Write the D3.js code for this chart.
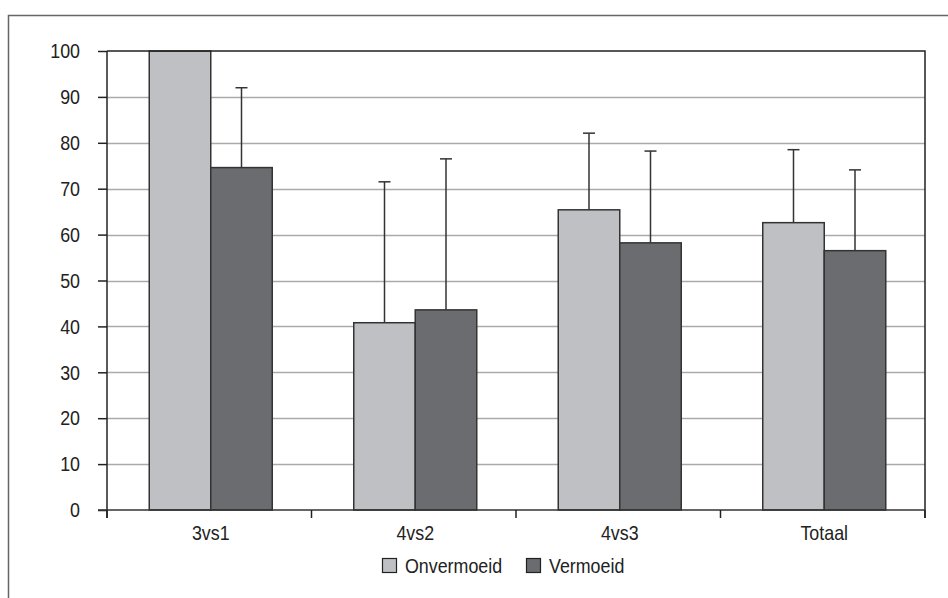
<!DOCTYPE html>
<html>
<head>
<meta charset="utf-8">
<script src="https://cdn.jsdelivr.net/npm/d3@7"></script>
<style>
  html, body { margin: 0; padding: 0; background: #fff; }
  svg { display: block; }
  text { font-family: "Liberation Sans Narrow", "Arial Narrow", "Liberation Sans", sans-serif; fill: #222; }
</style>
</head>
<body>
<svg id="chart" width="948" height="598"></svg>
<script>
const categories = ["3vs1", "4vs2", "4vs3", "Totaal"];
const seriesNames = ["Onvermoeid", "Vermoeid"];
const onvermoeid = [100, 40.8, 65.4, 62.6];
const vermoeid = [74.6, 43.6, 58.2, 56.5];
const onvermoeidUpper = [null, 71.5, 82.1, 78.5];
const vermoeidUpper = [92.0, 76.5, 78.2, 74.1];
const yTicks = [0, 10, 20, 30, 40, 50, 60, 70, 80, 90, 100];

(function () {
const colors = ["#bfc0c4", "#6b6c70"];
const FS = 21, SX = 0.85;
const svg = d3.select("#chart");

// condense text horizontally around its anchor x
function condense(sel) {
  sel.each(function () {
    const t = d3.select(this);
    const x = +t.attr("x") || 0;
    t.attr("transform", `translate(${x},0) scale(${SX},1) translate(${-x},0)`);
  });
}

// outer frame (top + left visible)
svg.append("path").attr("d", "M8.5,598 L8.5,15.5 L948,15.5")
  .attr("fill", "none").attr("stroke", "#666").attr("stroke-width", 1.5);

const pLeft = 107, pRight = 925, pTop = 51, pBottom = 510;
const x = d3.scaleBand().domain(categories).range([pLeft, pRight]);
const y = d3.scaleLinear().domain([0, 100]).range([pBottom, pTop]);

// gridlines
svg.append("g").selectAll("line").data(yTicks.filter(t => t > 0 && t < 100)).join("line")
  .attr("x1", pLeft).attr("x2", pRight)
  .attr("y1", d => Math.round(y(d)) + 0.5).attr("y2", d => Math.round(y(d)) + 0.5)
  .attr("stroke", "#aaaaaa").attr("stroke-width", 1.5);

const data = categories.map((c, i) => ({
  cat: c,
  vals: [
    { s: 0, v: onvermoeid[i], up: onvermoeidUpper[i] },
    { s: 1, v: vermoeid[i], up: vermoeidUpper[i] }
  ]
}));

const barW = 61.5;
const groups = svg.append("g").selectAll("g").data(data).join("g")
  .attr("transform", d => `translate(${x(d.cat) + x.bandwidth() / 2 + 1.5},0)`);

// error bars (drawn under bars)
groups.selectAll("g.err").data(d => d.vals.filter(v => v.up != null)).join("g").attr("class", "err")
  .each(function (d) {
    const g = d3.select(this);
    const cx = (d.s === 0 ? -barW / 2 : barW / 2);
    g.append("line").attr("x1", cx).attr("x2", cx).attr("y1", y(d.v)).attr("y2", y(d.up))
      .attr("stroke", "#333").attr("stroke-width", 1.5);
    g.append("line").attr("x1", cx - 6).attr("x2", cx + 6).attr("y1", y(d.up)).attr("y2", y(d.up))
      .attr("stroke", "#333").attr("stroke-width", 1.5);
  });

groups.selectAll("rect").data(d => d.vals).join("rect")
  .attr("x", d => d.s === 0 ? -barW : 0)
  .attr("width", barW)
  .attr("y", d => y(d.v))
  .attr("height", d => y(0) - y(d.v))
  .attr("fill", d => colors[d.s])
  .attr("stroke", "#333").attr("stroke-width", 1.5);

// plot frame: top and right
svg.append("path").attr("d", `M${pLeft},${pTop} L${pRight},${pTop} L${pRight},${pBottom + 8}`)
  .attr("fill", "none").attr("stroke", "#222").attr("stroke-width", 1.5);

// y axis
const yAxis = d3.axisLeft(y).tickValues(yTicks).tickSize(9).tickPadding(18).tickSizeOuter(0);
const yg = svg.append("g").attr("transform", `translate(${pLeft},0)`).call(yAxis);
yg.select(".domain").attr("stroke", "#222").attr("stroke-width", 1.5)
  .attr("d", `M0,${pTop} V${pBottom + 8}`);
yg.selectAll(".tick line").attr("stroke", "#222").attr("stroke-width", 1.5);
yg.selectAll(".tick text").attr("font-size", FS).attr("fill", "#222")
  .style("font-family", '"Liberation Sans Narrow", "Arial Narrow", "Liberation Sans", sans-serif')
  .call(condense);

// x axis
const xg = svg.append("g").attr("transform", `translate(0,${pBottom})`);
xg.append("line").attr("x1", pLeft - 9).attr("x2", pRight).attr("y1", 0).attr("y2", 0)
  .attr("stroke", "#333").attr("stroke-width", 1.5);
const edges = categories.map(c => x(c)).concat([pRight]);
xg.selectAll("line.t").data(edges).join("line").attr("class", "t")
  .attr("x1", d => d).attr("x2", d => d).attr("y1", 0).attr("y2", 8)
  .attr("stroke", "#222").attr("stroke-width", 1.5);
xg.selectAll("text").data(categories).join("text")
  .attr("x", d => x(d) + x.bandwidth() / 2 + 1.5).attr("y", 30.5)
  .attr("text-anchor", "middle").attr("font-size", FS).text(d => d)
  .call(condense);

// legend
const legend = svg.append("g").attr("transform", "translate(382,558)");
const items = legend.selectAll("g").data(seriesNames).join("g")
  .attr("transform", (d, i) => `translate(${i === 0 ? 0 : 144},0)`);
items.append("rect").attr("x", 0.5).attr("y", 0.5).attr("width", 14).attr("height", 14)
  .attr("fill", (d, i) => colors[i]).attr("stroke", "#222").attr("stroke-width", 1.2);
items.append("text").attr("x", 23).attr("y", 15).attr("font-size", FS).text(d => d)
  .call(condense);
})();
</script>
</body>
</html>
